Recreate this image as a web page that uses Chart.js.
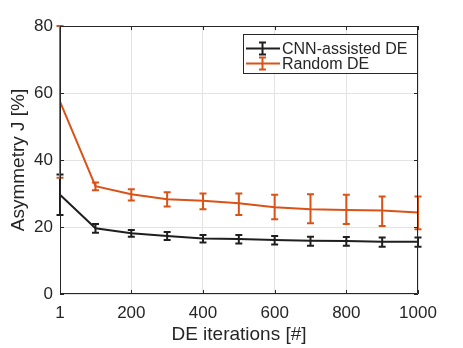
<!DOCTYPE html>
<html lang="en">
<head>
    <meta charset="UTF-8">
    <title>Asymmetry vs DE iterations</title>
    <script src="https://cdn.jsdelivr.net/npm/chart.js"></script>
    <style>
        html, body { margin: 0; padding: 0; background: #fff; }
        canvas { display: block; }
    </style>
</head>
<body>
    <canvas id="chart" width="463" height="348"></canvas>

    <script>
        // values
        const iterations = [1, 100, 200, 300, 400, 500, 600, 700, 800, 900, 1000];
        const xTicks = [1, 200, 400, 600, 800, 1000];
        const yTicks = [0, 20, 40, 60, 80];
        const seriesNames = ['CNN-assisted DE', 'Random DE'];

        const cnnMean = [29.6, 19.6, 18.1, 17.3, 16.6, 16.4, 16.1, 15.9, 15.8, 15.6, 15.6];
        const cnnLow  = [23.6, 18.3, 17.1, 16.1, 15.4, 15.1, 14.8, 14.4, 14.4, 14.1, 14.1];
        const cnnHigh = [35.7, 20.9, 19.1, 18.5, 17.6, 17.6, 17.3, 17.1, 17.0, 16.9, 16.9];

        const randMean = [57.4, 32.2, 29.8, 28.3, 27.8, 27.1, 25.9, 25.3, 25.1, 24.9, 24.3];
        const randLow  = [34.7, 31.0, 27.9, 26.1, 25.3, 23.6, 22.3, 21.1, 20.9, 20.3, 19.3];
        const randHigh = [80.0, 33.3, 31.3, 30.4, 30.0, 30.0, 29.6, 29.8, 29.6, 29.1, 29.1];

        const FONT = "'Liberation Sans', Arial, sans-serif";
        const TEXT = '#262626';
        const colors = ['#1f1f1f', '#D95319'];
        const lows = [cnnLow, randLow];
        const highs = [cnnHigh, randHigh];

        const toPoints = (ys) => iterations.map((x, i) => ({ x: x, y: ys[i] }));

        // error bars, drawn right after each dataset's line
        const errorBars = {
            id: 'errorBars',
            afterDatasetDraw(chart, args) {
                const i = args.index;
                const ctx = chart.ctx;
                const xs = chart.scales.x, ys = chart.scales.y;
                ctx.save();
                ctx.strokeStyle = colors[i];
                ctx.lineWidth = 2;
                iterations.forEach((it, k) => {
                    const px = xs.getPixelForValue(it);
                    const y1 = ys.getPixelForValue(lows[i][k]);
                    const y2 = ys.getPixelForValue(highs[i][k]);
                    ctx.beginPath();
                    ctx.moveTo(px, y1); ctx.lineTo(px, y2);
                    ctx.moveTo(px - 3.5, y1); ctx.lineTo(px + 3.5, y1);
                    ctx.moveTo(px - 3.5, y2); ctx.lineTo(px + 3.5, y2);
                    ctx.stroke();
                });
                ctx.restore();
            }
        };

        // box around axes with inward ticks, plus the legend
        const frame = {
            id: 'frame',
            afterDraw(chart) {
                const ctx = chart.ctx;
                const a = chart.chartArea;
                const xs = chart.scales.x, ys = chart.scales.y;
                ctx.save();
                ctx.strokeStyle = TEXT;
                ctx.lineWidth = 1;
                ctx.beginPath();
                ctx.rect(a.left + 0.5, a.top + 0.5, a.right - a.left - 1, a.bottom - a.top - 1);
                xTicks.forEach(v => {
                    const px = Math.round(xs.getPixelForValue(v)) + 0.5;
                    ctx.moveTo(px, a.bottom); ctx.lineTo(px, a.bottom - 4);
                    ctx.moveTo(px, a.top); ctx.lineTo(px, a.top + 4);
                });
                yTicks.forEach(v => {
                    const py = Math.round(ys.getPixelForValue(v)) + 0.5;
                    ctx.moveTo(a.left, py); ctx.lineTo(a.left + 4, py);
                    ctx.moveTo(a.right, py); ctx.lineTo(a.right - 4, py);
                });
                ctx.stroke();

                // legend
                const bx = 243, by = 34, bw = 174, bh = 39;
                ctx.fillStyle = '#fff';
                ctx.fillRect(bx, by, bw, bh);
                ctx.strokeStyle = TEXT;
                ctx.strokeRect(bx + 0.5, by + 0.5, bw, bh);
                ctx.font = '16px ' + FONT;
                ctx.textBaseline = 'middle';
                ctx.textAlign = 'left';
                seriesNames.forEach((name, i) => {
                    const cy = by + 14.5 + i * 15;
                    const cx = 262.5;
                    ctx.strokeStyle = colors[i];
                    ctx.lineWidth = 2;
                    ctx.beginPath();
                    ctx.moveTo(bx + 3, cy); ctx.lineTo(bx + 37, cy);
                    ctx.moveTo(cx, cy - 6); ctx.lineTo(cx, cy + 6);
                    ctx.moveTo(cx - 3.5, cy - 6); ctx.lineTo(cx + 3.5, cy - 6);
                    ctx.moveTo(cx - 3.5, cy + 6); ctx.lineTo(cx + 3.5, cy + 6);
                    ctx.stroke();
                    ctx.fillStyle = TEXT;
                    ctx.fillText(name, bx + 39, cy + 1);
                });
                ctx.restore();
            }
        };

        new Chart(document.getElementById('chart'), {
            type: 'line',
            data: {
                datasets: [
                    {
                        label: seriesNames[0],
                        data: toPoints(cnnMean),
                        borderColor: colors[0],
                        borderWidth: 2,
                        pointRadius: 0,
                        tension: 0,
                        clip: false,
                        order: 1
                    },
                    {
                        label: seriesNames[1],
                        data: toPoints(randMean),
                        borderColor: colors[1],
                        borderWidth: 2,
                        pointRadius: 0,
                        tension: 0,
                        clip: false,
                        order: 0
                    }
                ]
            },
            options: {
                responsive: false,
                animation: false,
                layout: { padding: { left: 0, right: 45, top: 26, bottom: 0 } },
                plugins: {
                    legend: { display: false },
                    tooltip: { enabled: false }
                },
                scales: {
                    x: {
                        type: 'linear',
                        min: 1,
                        max: 1000,
                        afterBuildTicks: (scale) => { scale.ticks = xTicks.map(v => ({ value: v })); },
                        afterFit: (scale) => { scale.height = 54; },
                        grid: { color: '#e3e3e3', drawTicks: false },
                        border: { display: false },
                        ticks: {
                            padding: 9,
                            color: TEXT,
                            font: { family: FONT, size: 17 },
                            maxRotation: 0,
                            autoSkip: false,
                            callback: (v) => String(v)
                        },
                        title: {
                            display: true,
                            text: 'DE iterations [#]',
                            color: TEXT,
                            font: { family: FONT, size: 19 },
                            padding: { top: 0, bottom: 2 }
                        }
                    },
                    y: {
                        min: 0,
                        max: 80,
                        afterBuildTicks: (scale) => { scale.ticks = yTicks.map(v => ({ value: v })); },
                        afterFit: (scale) => { scale.width = 60; },
                        grid: { color: '#e3e3e3', drawTicks: false },
                        border: { display: false },
                        ticks: {
                            padding: 7,
                            color: TEXT,
                            font: { family: FONT, size: 17 },
                            callback: (v) => String(v)
                        },
                        title: {
                            display: true,
                            text: 'Asymmetry J [%]',
                            color: TEXT,
                            font: { family: FONT, size: 19 },
                            padding: { top: 7, bottom: 0 }
                        }
                    }
                }
            },
            plugins: [errorBars, frame]
        });
    </script>
</body>
</html>
